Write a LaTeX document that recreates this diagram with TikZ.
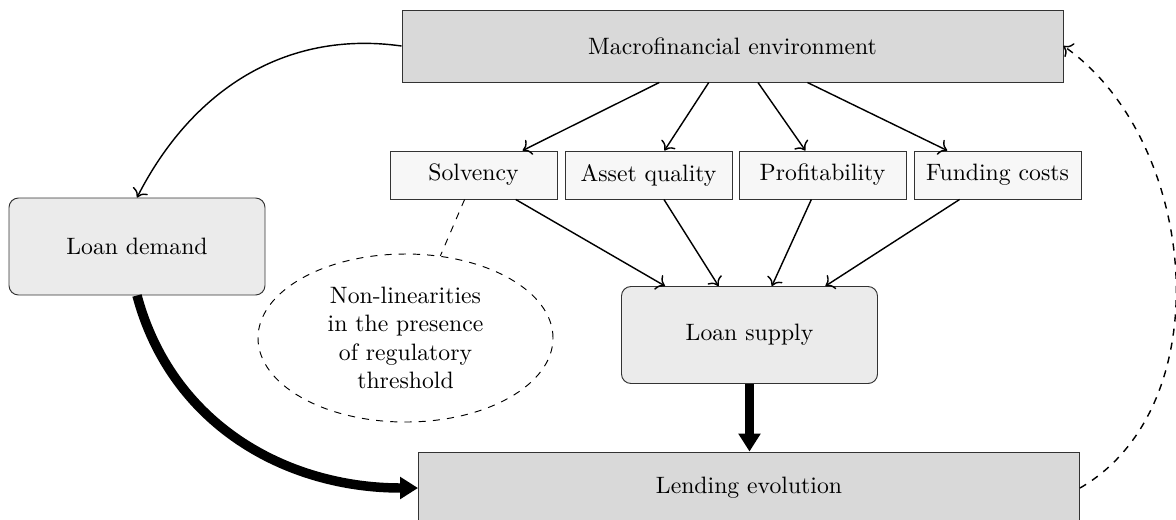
\documentclass[tikz,border=0pt]{standalone}
\usetikzlibrary{arrows.meta,shapes.geometric}
\newcommand\pxu{0.4218pt}
\begin{document}
\begin{tikzpicture}[x=0.4218pt,y=-0.4218pt,
  bigbox/.style={draw=black!80, fill=gray!30, minimum width=661*\pxu, minimum height=72*\pxu, inner sep=0pt},
  factor/.style={draw=black!80, fill=gray!6, minimum width=167*\pxu, minimum height=48*\pxu, inner sep=0pt},
  loanbox/.style={draw=black!80, fill=gray!16, rounded corners=4pt, minimum width=256*\pxu, minimum height=97*\pxu, inner sep=0pt},
  arr/.style={-{To[scale=1.15]}, semithick},
  fatarr/.style={-{Triangle[length=7.6pt,width=9pt]}, line width=4pt},
  note/.style={ellipse, draw, dashed, align=center, minimum width=295*\pxu, minimum height=168*\pxu, inner sep=0pt}
]
\useasboundingbox (0,0) rectangle (1176,519);
\node[bigbox] (macro) at (732.5,46) {Macrofinancial environment};
\node[factor] (solv) at (473.5,175) {Solvency};
\node[factor] (asset) at (648.5,175) {Asset quality};
\node[factor] (profit) at (822.5,175) {Profitability};
\node[factor] (fund) at (997.5,175) {Funding costs};
\node[loanbox] (dem) at (137,246.5) {Loan demand};
\node[loanbox] (sup) at (749.5,335) {Loan supply};
\node[bigbox] (lend) at (749,488) {Lending evolution};
\node[note] (nonlin) at (405.5,338) {Non-linearities\\in the presence\\of regulatory\\threshold};

\foreach \f in {solv,asset,profit,fund}{
  \draw[arr] (macro) -- (\f);
  \draw[arr] (\f) -- (sup);
}
\draw[dashed] (solv.250) -- (nonlin.67);
\draw[arr] (macro.west) to[out=172,in=63] (dem.north);
\draw[fatarr] (dem.south) to[out=-75,in=180] (lend.west);
\draw[fatarr] (sup.south) -- (lend.north -| sup.south);
\draw[-{To[scale=1.15]}, dashed, semithick] (lend.east) to[out=30,in=-35,looseness=0.95] (macro.east);
\end{tikzpicture}
\end{document}
